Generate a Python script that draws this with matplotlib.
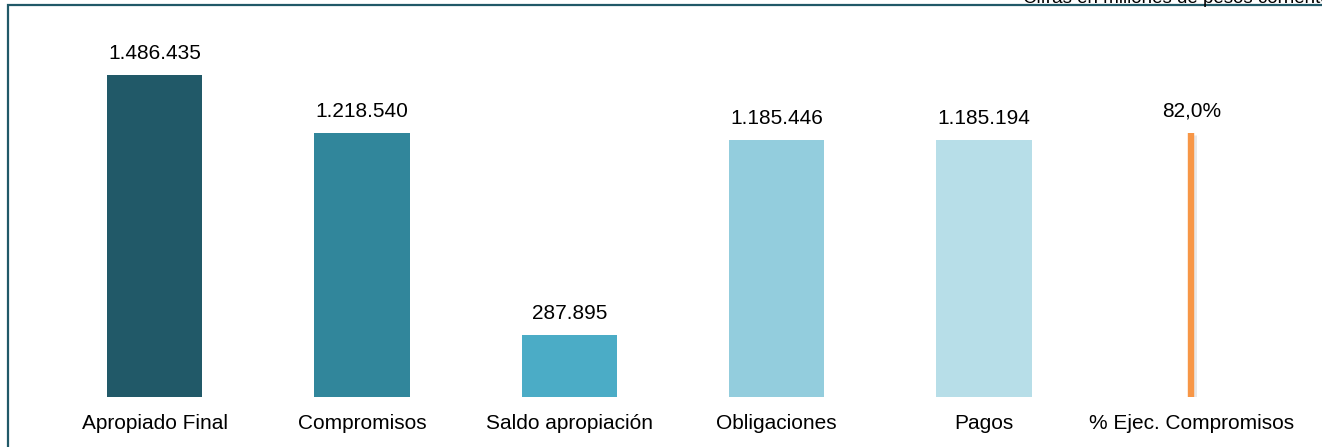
import matplotlib
matplotlib.use("Agg")
import matplotlib.pyplot as plt
from matplotlib.patches import Rectangle

plt.rcParams['font.family'] = ['Liberation Sans', 'DejaVu Sans']

categories = ["Apropiado Final", "Compromisos", "Saldo apropiación", "Obligaciones", "Pagos"]
values = [1486435, 1218540, 287895, 1185446, 1185194]
value_labels = ["1.486.435", "1.218.540", "287.895", "1.185.446", "1.185.194"]
pct_category = "% Ejec. Compromisos"
pct_value = 0.82
pct_label = "82,0%"
colors = ["#215968", "#31869B", "#4BACC6", "#93CDDD", "#B7DEE8"]
pct_color = "#F79646"
note = "Cifras en millones de pesos corrientes"

W, H = 1322, 447
fig = plt.figure(figsize=(W / 100, H / 100), dpi=100)

left_px, right_px = 51, 1295
bottom_px, top_px = 397, 30
ax = fig.add_axes([left_px / W, (H - bottom_px) / H, (right_px - left_px) / W, (bottom_px - top_px) / H])
ax2 = ax.twinx()

n = len(categories) + 1
xs = list(range(len(categories)))
bw = 95 / 207.3
ax.bar(xs, values, width=bw, color=colors, zorder=2)
ax.set_xlim(-0.5, n - 0.5)
scale = (bottom_px - top_px) / 322
ax.set_ylim(0, values[0] * scale)
ax2.set_ylim(0, scale)

for x, v, lab in zip(xs, values, value_labels):
    ax.annotate(lab, (x, v), xytext=(0, 8.5), textcoords="offset points",
                ha="center", va="bottom", fontsize=15)

# percentage line with soft shadow
ax2.vlines(len(categories) + 0.006, -0.008, pct_value - 0.006, colors="#CCCCCC", lw=5, alpha=0.45, zorder=1)
ax2.vlines(len(categories), 0, pct_value, colors=pct_color, lw=4.6, zorder=2)
ax2.annotate(pct_label, (len(categories), pct_value), xytext=(0, 9), textcoords="offset points",
             ha="center", va="bottom", fontsize=15)

ax.set_xticks(range(n))
ax.set_xticklabels(categories + [pct_category], fontsize=15)
ax.tick_params(axis="x", length=0, pad=12.5)
ax.set_yticks([])
ax2.set_yticks([])
for a in (ax, ax2):
    for s in a.spines.values():
        s.set_visible(False)

# outer frame
fig.patches.append(Rectangle((7.5 / W, -0.05), 1.1, 1 - 4.5 / H + 0.05, transform=fig.transFigure,
                             fill=False, edgecolor="#215968", lw=1.6, figure=fig))
fig.text(1023 / W, 1 - 3 / H, note, ha="left", va="baseline", fontsize=13.5)

fig.savefig("out.png", dpi=100)
